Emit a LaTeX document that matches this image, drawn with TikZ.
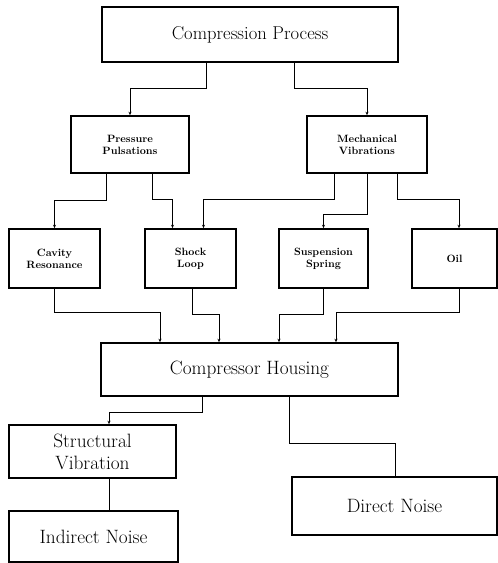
\documentclass[tikz,border=0pt]{standalone}
\usetikzlibrary{arrows.meta}
\begin{document}
\begin{tikzpicture}[x=1pt,y=-1pt,
  box/.style={draw,line width=1.6pt,rectangle,inner sep=0pt,align=center},
  conn/.style={line width=0.8pt},
  arr/.style={conn,-{Stealth[length=3.5pt,width=3pt]}},
  small/.style={font=\fontsize{10.6}{12}\selectfont\bfseries},
  big/.style={font=\fontsize{18.6}{22}\selectfont},
  bigger/.style={font=\fontsize{19.3}{22}\selectfont}]
\useasboundingbox (0,0) rectangle (498,563);
\node[box,big,minimum width=296pt,minimum height=55pt] (CP) at (250,34.5) {Compression Process};
\node[box,small,minimum width=118pt,minimum height=57pt] (PP) at (130,144.5) {Pressure\\Pulsations};
\node[box,small,minimum width=120pt,minimum height=57pt] (MV) at (367,144.5) {Mechanical\\Vibrations};
\node[box,small,minimum width=91pt,minimum height=59pt] (CR) at (54.5,258.5) {Cavity\\Resonance};
\node[box,small,minimum width=91pt,minimum height=59pt] (SL) at (190.5,258.5) {Shock\\Loop};
\node[box,small,minimum width=89pt,minimum height=59pt] (SS) at (323.5,258.5) {Suspension\\Spring};
\node[box,small,minimum width=85pt,minimum height=59pt] (OIL) at (454.5,258.5) {Oil};
\node[box,bigger,minimum width=297pt,minimum height=53pt] (CH) at (249.5,369.5) {Compressor Housing};
\node[box,bigger,minimum width=167pt,minimum height=53pt] (SV) at (92.5,451.5) {Structural\\Vibration};
\node[box,bigger,minimum width=169pt,minimum height=51pt] (IN) at (93.5,536.5) {Indirect Noise};
\node[box,bigger,minimum width=205pt,minimum height=58pt] (DN) at (394.5,506) {Direct Noise};

\draw[arr] ([xshift=-44pt]CP.south) -- ++(0,26) -| (PP.north);
\draw[arr] ([xshift=44pt]CP.south) -- ++(0,26) -| (MV.north);
\draw[arr] ([xshift=-24pt]PP.south) -- ++(0,27) -| (CR.north);
\draw[arr] ([xshift=22pt]PP.south) -- ++(0,26) -| ([xshift=-18pt]SL.north);
\draw[arr] ([xshift=-33pt]MV.south) -- ++(0,26) -| ([xshift=13pt]SL.north);
\draw[arr] (MV.south) -- ++(0,41) -| (SS.north);
\draw[arr] ([xshift=30pt]MV.south) -- ++(0,26) -| ([xshift=4.5pt]OIL.north);
\draw[arr] (CR.south) -- ++(0,24) -| ([xshift=-89.5pt]CH.north);
\draw[arr] ([xshift=1.5pt]SL.south) -- ++(0,26) -| ([xshift=-30.5pt]CH.north);
\draw[arr] (SS.south) -- ++(0,26) -| ([xshift=29.5pt]CH.north);
\draw[arr] ([xshift=4.5pt]OIL.south) -- ++(0,24) -| ([xshift=86.5pt]CH.north);
\draw[arr] ([xshift=-47.5pt]CH.south) -- ++(0,16) -| ([xshift=16.5pt]SV.north);
\draw[conn] ([xshift=39.5pt]CH.south) -- ++(0,47) -| ([xshift=0.5pt]DN.north);
\draw[conn] ([xshift=16.5pt]SV.south) -- ([xshift=15.5pt]IN.north);
\end{tikzpicture}
\end{document}
